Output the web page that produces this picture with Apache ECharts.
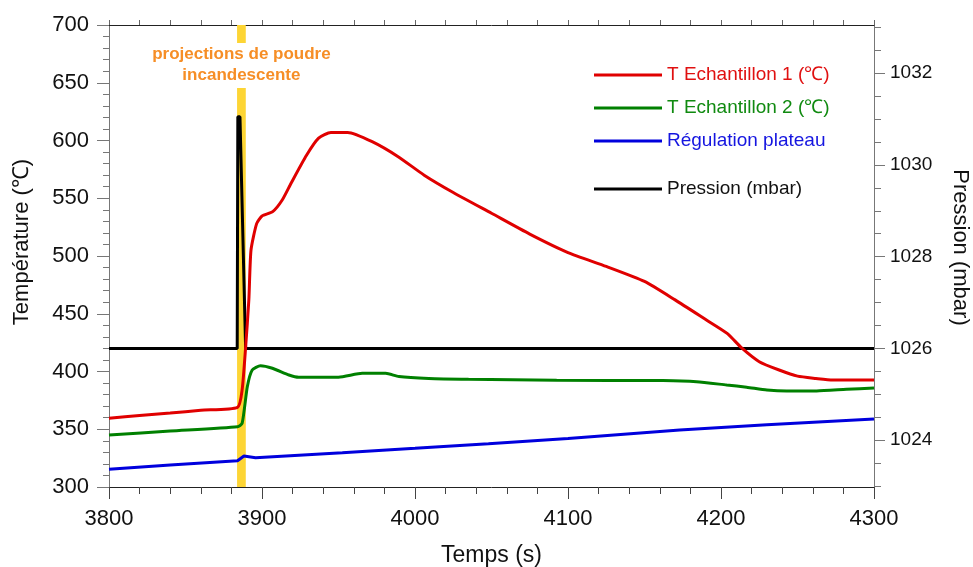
<!DOCTYPE html>
<html>
<head>
<meta charset="utf-8">
<script src="https://cdn.jsdelivr.net/npm/echarts@6/dist/echarts.min.js"></script>
<style>html,body{margin:0;padding:0;background:#fff;overflow:hidden}#c{width:973px;height:567px}</style>
</head>
<body>
<div id="c"></div>
<script>
// ---- data ----
const redT   = [3800, 3820, 3840, 3860, 3884, 3887, 3889.3, 3891.4, 3892.8, 3896.5, 3900, 3907, 3913, 3919, 3929, 3937, 3945, 3956, 3972, 3989, 4006, 4025, 4050, 4075, 4100, 4125, 4150, 4170, 4190, 4204, 4213.5, 4225, 4238, 4250, 4262, 4273, 4300];
const redV   = [359.5, 362, 364, 366.5, 369, 384, 421, 462, 505, 528, 534.6, 538.4, 548, 563, 587, 602, 607, 607, 599, 586, 570, 555, 537, 519, 503, 491, 478, 462, 445, 433, 420.4, 408.5, 401.3, 396, 394, 392.6, 392.6];
const greenT = [3800, 3840, 3884, 3887, 3890.4, 3893.6, 3899, 3906.8, 3917.6, 3924, 3950, 3965.6, 3980.8, 3989.5, 4009, 4035, 4092.6, 4162, 4184, 4203.7, 4216.8, 4230, 4243, 4262.5, 4282, 4300];
const greenV = [345, 348.5, 352.2, 355, 386.8, 401.3, 405, 402.8, 397, 395, 395, 398.4, 398.4, 395.6, 394, 393.3, 392.4, 392.1, 391.2, 388.3, 386.4, 384, 383.1, 383.1, 384.6, 385.7];
const blueT  = [3800, 3840, 3884, 3888.2, 3895.8, 3952.5, 4000, 4048, 4100, 4173, 4230, 4300];
const blueV  = [315.3, 319, 322.8, 326.8, 325.4, 329.6, 333.5, 337.5, 342, 349.4, 354, 358.9];
const presT  = [3800, 3883.8, 3884.2, 3885.6, 3889.3, 4300];
const presV  = [1026, 1026, 1031.05, 1031.05, 1026, 1026];
const bandStart = 3883.7, bandEnd = 3889.4;
const pressureLabels = [1024, 1026, 1028, 1030, 1032];
const pressureMinor = [1023, 1023.5, 1024, 1024.5, 1025, 1025.5, 1026, 1026.5, 1027, 1027.5, 1028, 1028.5, 1029, 1029.5, 1030, 1030.5, 1031, 1031.5, 1032, 1032.5, 1033];
const names = ['T Echantillon 1 (\u2103)', 'T Echantillon 2 (\u2103)', 'R\u00e9gulation plateau', 'Pression (mbar)'];
const annotation = 'projections de poudre\nincandescente';

const zip = (a, b) => a.map((v, i) => [v, b[i]]);
const FONT = 'Liberation Sans, Arial, sans-serif';
const raw = v => String(v);

const chart = echarts.init(document.getElementById('c'), null, {renderer: 'canvas'});
const line = (name, data, color, yi, smooth) => ({
  name, type: 'line', data, yAxisIndex: yi || 0, showSymbol: false, symbol: 'none',
  smooth: smooth || false,
  lineStyle: {color, width: 3}, itemStyle: {color}, animation: false
});
const pres = line(names[3], zip(presT, presV), '#000000', 1);
pres.markArea = {
  silent: true,
  itemStyle: {color: '#fdd535'},
  label: {
    show: true, position: 'insideTop', distance: 18,
    backgroundColor: '#ffffff', padding: [1, 4, 2, 4],
    color: '#f68e26', fontWeight: 'bold', fontSize: 17, lineHeight: 21,
    fontFamily: FONT, align: 'center'
  },
  data: [[{xAxis: bandStart, name: annotation}, {xAxis: bandEnd}]]
};
pres.z = 1;

chart.setOption({
  animation: false,
  backgroundColor: '#fff',
  grid: {left: 109, right: 99, top: 25, bottom: 80, containLabel: false, outerBoundsMode: 'none'},
  legend: [{
    orient: 'vertical', left: 589, top: 60.5, itemGap: 14,
    icon: 'rect', itemWidth: 68, itemHeight: 3,
    textStyle: {fontSize: 19, fontFamily: FONT},
    data: [
      {name: names[0], textStyle: {color: '#e01010'}},
      {name: names[1], textStyle: {color: '#108a10'}},
      {name: names[2], textStyle: {color: '#1515e0'}}
    ]
  }, {
    orient: 'vertical', left: 589, top: 174.5,
    icon: 'rect', itemWidth: 68, itemHeight: 3,
    textStyle: {fontSize: 19, fontFamily: FONT, color: '#111'},
    data: [{name: names[3]}]
  }],
  xAxis: [{
    type: 'value', min: 3800, max: 4300, interval: 100, position: 'bottom',
    name: 'Temps (s)', nameLocation: 'middle', nameGap: 57,
    nameTextStyle: {fontSize: 23, fontFamily: FONT, color: '#111'},
    axisLine: {show: true, lineStyle: {color: '#222', width: 1}},
    axisTick: {show: true, length: 12, lineStyle: {color: '#444'}},
    minorTick: {show: true, splitNumber: 5, length: 7, lineStyle: {color: '#444'}},
    axisLabel: {fontSize: 22, fontFamily: FONT, color: '#111', margin: 21, formatter: raw},
    splitLine: {show: false}
  }, {
    type: 'value', min: 3800, max: 4300, interval: 20, position: 'top',
    axisLine: {show: true, lineStyle: {color: '#222', width: 1}},
    axisTick: {show: true, length: 5, lineStyle: {color: '#666'}},
    axisLabel: {show: false}, splitLine: {show: false}
  }],
  yAxis: [{
    type: 'value', min: 300, max: 700, interval: 50, position: 'left',
    name: 'Temp\u00e9rature (\u2103)', nameLocation: 'middle', nameGap: 76,
    nameTextStyle: {fontSize: 22, fontFamily: FONT, color: '#111', padding: [0, 0, 0, 28]},
    axisLine: {show: true, lineStyle: {color: '#777', width: 1}},
    axisTick: {show: true, length: 12, lineStyle: {color: '#777'}},
    minorTick: {show: true, splitNumber: 5, length: 6, lineStyle: {color: '#777'}},
    axisLabel: {fontSize: 22, fontFamily: FONT, color: '#111', margin: 20, formatter: raw},
    splitLine: {show: false}
  }, {
    type: 'value', min: 1022.98, max: 1033.05, position: 'right',
    name: 'Pression (mbar)', nameLocation: 'middle', nameGap: 75, nameRotate: -90,
    nameTextStyle: {fontSize: 22, fontFamily: FONT, color: '#111', padding: [0, 17, 0, 0]},
    axisLine: {show: true, onZero: false, lineStyle: {color: '#777', width: 1}},
    axisTick: {show: true, length: 11, customValues: pressureLabels, lineStyle: {color: '#777'}},
    axisLabel: {fontSize: 19, fontFamily: FONT, color: '#111', margin: 16, customValues: pressureLabels, formatter: raw},
    splitLine: {show: false}
  }, {
    type: 'value', min: 1022.98, max: 1033.05, position: 'right',
    axisLine: {show: false},
    axisTick: {show: true, length: 7, customValues: pressureMinor, lineStyle: {color: '#777'}},
    axisLabel: {show: false}, splitLine: {show: false}
  }],
  series: [
    pres,
    line(names[0], zip(redT, redV), '#e00000', 0, 0.2),
    line(names[1], zip(greenT, greenV), '#008000', 0, 0.2),
    line(names[2], zip(blueT, blueV), '#0000dd')
  ]
});
</script>
</body>
</html>
